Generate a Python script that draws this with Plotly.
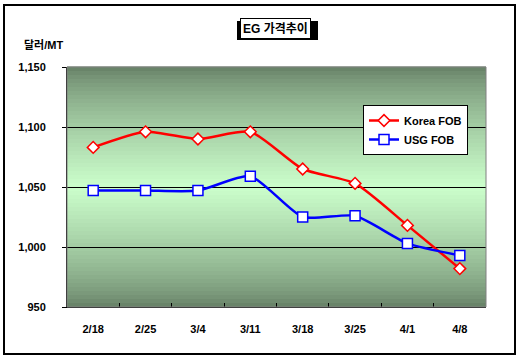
import plotly.graph_objects as go

categories = ["2/18", "2/25", "3/4", "3/11", "3/18", "3/25", "4/1", "4/8"]
korea_fob = [1083, 1096, 1090, 1096, 1065, 1053, 1018, 982]
usg_fob = [1047, 1047, 1047, 1059, 1025, 1026, 1003, 993]
y_ticks = [950, 1000, 1050, 1100, 1150]
title_text = "EG 가격추이"
unit_text = "달러/MT"

W, H = 521, 362
L, R, T, B = 67, 35, 67, 55
pw, ph = W - L - R, H - T - B

def px_x(x):
    return (x - L) / pw

def px_y(y):
    return (H - B - y) / ph

FONT = "Arial, Liberation Sans, Noto Sans CJK KR, sans-serif"

fig = go.Figure()

# gradient background bands
dark = (100, 125, 100)
light = (204, 255, 204)
n = 60
shapes = []
for i in range(n):
    y0 = i / n
    y1 = (i + 1) / n
    c = (y0 + y1) / 2
    t = 1 - abs(c - 0.5) * 2  # 0 at edges, 1 in middle
    t = t ** 0.7
    col = tuple(int(dark[k] + (light[k] - dark[k]) * t) for k in range(3))
    shapes.append(dict(type="rect", xref="x domain", yref="y domain",
                       x0=0, x1=1, y0=y0, y1=y1 + 0.002, line_width=0,
                       fillcolor="rgb(%d,%d,%d)" % col, layer="below"))
# plot area border
shapes.append(dict(type="rect", xref="x domain", yref="y domain", x0=0, x1=1, y0=0, y1=1,
                   line=dict(color="#808080", width=1), layer="above"))
# outer border
shapes.append(dict(type="rect", xref="paper", yref="paper",
                   x0=px_x(4), x1=px_x(515), y0=px_y(354), y1=px_y(5),
                   line=dict(color="black", width=2)))
# title shadow
shapes.append(dict(type="rect", xref="paper", yref="paper",
                   x0=px_x(237), x1=px_x(318), y0=px_y(40), y1=px_y(21),
                   fillcolor="black", line_width=0))

fig.add_trace(go.Scatter(
    x=categories, y=korea_fob, name="Korea FOB", mode="lines+markers",
    line=dict(color="#ff0000", width=2.5, shape="spline", smoothing=0.6),
    marker=dict(symbol="diamond", size=9, color="white", line=dict(color="#ff0000", width=1.5)),
))
fig.add_trace(go.Scatter(
    x=categories, y=usg_fob, name="USG FOB", mode="lines+markers",
    line=dict(color="#0000ff", width=2.5, shape="spline", smoothing=0.6),
    marker=dict(symbol="square", size=10, color="white", line=dict(color="#0000ff", width=1.5)),
))

fig.update_layout(
    width=W, height=H,
    margin=dict(l=L, r=R, t=T, b=B),
    paper_bgcolor="white",
    plot_bgcolor="rgba(0,0,0,0)",
    font=dict(family=FONT, size=11, color="black"),
    showlegend=True,
    legend=dict(x=px_x(363), y=px_y(105), xanchor="left", yanchor="top",
                bgcolor="white", bordercolor="black", borderwidth=1,
                font=dict(family=FONT, size=11, color="black", weight="bold"),
                itemwidth=30, tracegroupgap=0),
    shapes=shapes,
    annotations=[
        dict(text="<b>" + title_text + "</b>", xref="paper", yref="paper",
             x=px_x(275), y=px_y(29), xanchor="center", yanchor="middle",
             showarrow=False, bgcolor="white", bordercolor="black", borderwidth=1,
             borderpad=2, font=dict(family=FONT, size=12)),
        dict(text="<b>" + unit_text + "</b>", xref="paper", yref="paper",
             x=px_x(22), y=px_y(45), xanchor="left", yanchor="middle",
             showarrow=False, font=dict(family=FONT, size=11)),
    ],
)

fig.update_xaxes(
    type="category", range=[-0.5, 7.5], tickson="boundaries", ticks="inside",
    ticklen=4, tickcolor="black", showgrid=False, showline=True, linecolor="black",
    linewidth=1, tickfont=dict(family=FONT, size=11, weight="bold"), ticklabelstandoff=12,
)
fig.update_yaxes(
    range=[950, 1150], tickvals=y_ticks, tickformat=",", showgrid=True,
    gridcolor="black", gridwidth=1, zeroline=False, showline=True, linecolor="black",
    linewidth=1, ticks="outside", ticklen=4, tickcolor="black",
    tickfont=dict(family=FONT, size=11, weight="bold"), ticklabelstandoff=14,
)

fig.write_html("out.html", config={"displayModeBar": False},
               post_script="document.body.style.margin='0';document.body.style.overflow='hidden';")
